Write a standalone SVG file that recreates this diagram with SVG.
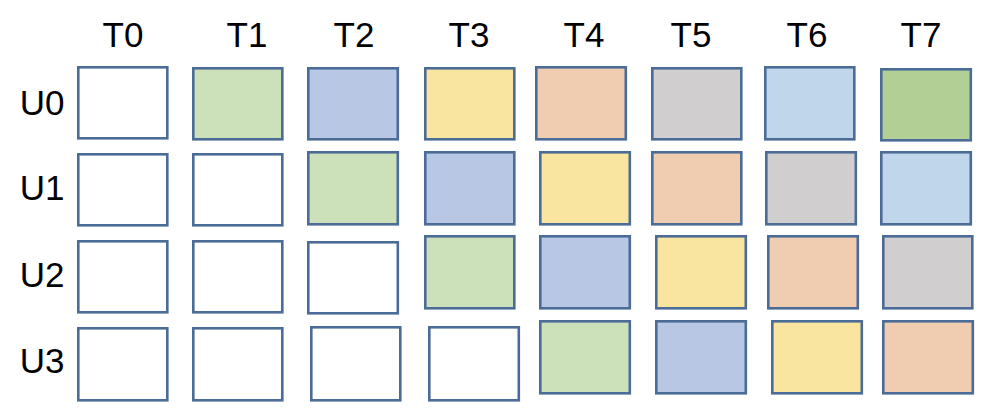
<svg xmlns="http://www.w3.org/2000/svg" width="1002" height="418" viewBox="0 0 1002 418">
<style>
.lbl{font-family:"Liberation Sans",Arial,sans-serif;font-size:35px;fill:#000;text-anchor:middle}
.c{stroke:#4B6C97;stroke-width:2.6}
.w{fill:#FFFFFF}.g{fill:#CCE0BA}.b{fill:#B8C7E3}.y{fill:#FAE5A0}.o{fill:#F0CDB1}.s{fill:#D0CECE}.l{fill:#C0D7EB}.d{fill:#B2D095}
</style>
<rect width="1002" height="418" fill="#fff"/>
<g id="col-labels">
<text class="lbl" x="123" y="47">T0</text>
<text class="lbl" x="247" y="47">T1</text>
<text class="lbl" x="354" y="47">T2</text>
<text class="lbl" x="469" y="47">T3</text>
<text class="lbl" x="584" y="47">T4</text>
<text class="lbl" x="691" y="47">T5</text>
<text class="lbl" x="807" y="47">T6</text>
<text class="lbl" x="921" y="47">T7</text>
</g>
<g id="row-labels">
<text class="lbl" x="42" y="115">U0</text>
<text class="lbl" x="42" y="200">U1</text>
<text class="lbl" x="42" y="287">U2</text>
<text class="lbl" x="42" y="373">U3</text>
</g>
<g id="row-U0">
<rect id="u0t0" class="c w" x="78.3" y="67.3" width="89" height="71"/>
<rect id="u0t1" class="c g" x="193.3" y="68.3" width="89" height="71"/>
<rect id="u0t2" class="c b" x="308.3" y="68.3" width="89.5" height="71"/>
<rect id="u0t3" class="c y" x="425.3" y="68.3" width="89" height="71"/>
<rect id="u0t4" class="c o" x="536.3" y="67.3" width="89.5" height="72"/>
<rect id="u0t5" class="c s" x="652.3" y="68.3" width="89" height="71"/>
<rect id="u0t6" class="c l" x="765.3" y="67.3" width="89" height="72"/>
<rect id="u0t7" class="c d" x="881.3" y="69.3" width="89.5" height="71"/>
</g>
<g id="row-U1">
<rect id="u1t0" class="c w" x="78.3" y="154.3" width="89" height="71"/>
<rect id="u1t1" class="c w" x="193.3" y="154.3" width="89" height="71"/>
<rect id="u1t2" class="c g" x="308.3" y="152.3" width="89.5" height="72"/>
<rect id="u1t3" class="c b" x="425.3" y="152.3" width="89" height="72"/>
<rect id="u1t4" class="c y" x="540.3" y="152.3" width="89.5" height="72"/>
<rect id="u1t5" class="c o" x="652.3" y="152.3" width="89" height="72"/>
<rect id="u1t6" class="c s" x="766.3" y="152.3" width="89.5" height="72"/>
<rect id="u1t7" class="c l" x="881.3" y="152.3" width="89.5" height="72"/>
</g>
<g id="row-U2">
<rect id="u2t0" class="c w" x="78.3" y="241.3" width="89" height="71"/>
<rect id="u2t1" class="c w" x="193.3" y="241.3" width="89" height="71"/>
<rect id="u2t2" class="c w" x="308.3" y="242.3" width="89.5" height="71"/>
<rect id="u2t3" class="c g" x="425.3" y="236.3" width="89" height="72"/>
<rect id="u2t4" class="c b" x="540.3" y="236.3" width="89.5" height="72"/>
<rect id="u2t5" class="c y" x="656.3" y="236.3" width="89.5" height="72"/>
<rect id="u2t6" class="c o" x="768.3" y="236.3" width="89.5" height="72"/>
<rect id="u2t7" class="c s" x="883.3" y="236.3" width="89" height="72"/>
</g>
<g id="row-U3">
<rect id="u3t0" class="c w" x="78.3" y="328.3" width="89" height="72"/>
<rect id="u3t1" class="c w" x="193.3" y="328.3" width="89" height="72"/>
<rect id="u3t2" class="c w" x="311.3" y="327.3" width="89" height="73"/>
<rect id="u3t3" class="c w" x="429.3" y="327.3" width="89.5" height="73"/>
<rect id="u3t4" class="c g" x="540.3" y="321.3" width="89.5" height="72"/>
<rect id="u3t5" class="c b" x="656.3" y="321.3" width="89.5" height="72"/>
<rect id="u3t6" class="c y" x="772.3" y="321.3" width="89.5" height="72"/>
<rect id="u3t7" class="c o" x="883.3" y="321.3" width="89.5" height="72"/>
</g>
</svg>
